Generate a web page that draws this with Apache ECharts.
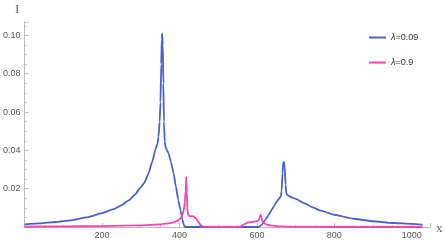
<!DOCTYPE html>
<html><head><meta charset="utf-8">
<script src="https://cdn.jsdelivr.net/npm/echarts@6/dist/echarts.min.js"></script>
<style>html,body{margin:0;padding:0;background:#fff}#c{width:445px;height:240px}</style>
</head><body><div id="c"></div>
<script>
const seriesNames = ['λ=0.09', 'λ=0.9'];
const xTickLabels = [200, 400, 600, 800, 1000];
const yTickLabels = ['0.02', '0.04', '0.06', '0.08', '0.10'];

const blueX = [0,40,80,120,160,200,230,250,270,284,300,309,320,330,338,343,346,349,351,353,354.5,355.5,357,358.5,360,362,364,368,372,378,385,391,397,403,408,412,415,500,604,612,621,630,638,645,651,657,662,664,666,668,670,672,674,676,680,686,700,722,745,765,800,850,900,950,1000,1028];
const blueY = [0.0014,0.0019,0.0026,0.0035,0.0050,0.0072,0.0093,0.0113,0.0140,0.0167,0.0205,0.0230,0.0278,0.0342,0.0405,0.0432,0.0470,0.0550,0.0650,0.0850,0.0980,0.1010,0.0950,0.0750,0.0550,0.0445,0.0418,0.0400,0.0384,0.0340,0.0280,0.0210,0.0140,0.0085,0.0036,0.0008,0,0,0,0.0010,0.0036,0.0062,0.0089,0.0112,0.0132,0.0148,0.0160,0.0190,0.0280,0.0335,0.0340,0.0310,0.0220,0.0175,0.0165,0.0158,0.0147,0.0125,0.0102,0.0085,0.0064,0.0043,0.0030,0.0021,0.0016,0.0012];

const pinkX = [0,100,200,300,350,380,395,405,411,414,416,417.5,419,420.5,422,426,432,438,443,448,453,458,465,500,550,558,565,575,587,597,603,606,608,610,612,614,618,625,640,660,700,800,1028];
const pinkY = [0.0002,0.0003,0.0005,0.0009,0.0014,0.0022,0.0032,0.0050,0.0085,0.0130,0.0190,0.0262,0.0180,0.0100,0.0065,0.0057,0.0057,0.0053,0.0045,0.0030,0.0015,0.0005,0.0001,0,0,0.0002,0.0012,0.0022,0.0026,0.0029,0.0032,0.0040,0.0055,0.0063,0.0048,0.0030,0.0020,0.0013,0.0007,0.0003,0.0001,0,0];

const zip = (xs, ys) => xs.map((x, i) => [x, ys[i]]);
const chart = echarts.init(document.getElementById('c'), null, {renderer: 'canvas'});
const axisCol = '#bdbdbd';
const lblCol = '#555';
chart.setOption({
  animation: false,
  backgroundColor: '#fff',
  grid: {left: 20, top: 22, width: 410, height: 206, containLabel: false},
  xAxis: {
    type: 'value', min: 0, max: 1047, interval: 200,
    axisLine: {lineStyle: {color: axisCol, width: 1}},
    axisTick: {inside: true, length: 4, lineStyle: {color: axisCol}},
    minorTick: {show: true, splitNumber: 4, length: 2, lineStyle: {color: axisCol}},
    splitLine: {show: false},
    axisLabel: {color: lblCol, fontSize: 9, fontFamily: 'Liberation Sans', margin: 4,
      showMaxLabel: false,
      formatter: v => xTickLabels.includes(v) ? String(v) : ''}
  },
  yAxis: {
    type: 'value', min: 0, max: 0.107, interval: 0.02,
    axisLine: {show: true, lineStyle: {color: axisCol, width: 1}},
    axisTick: {show: true, inside: true, length: 4, lineStyle: {color: axisCol}},
    minorTick: {show: true, splitNumber: 4, length: 2, lineStyle: {color: axisCol}},
    splitLine: {show: false},
    axisLabel: {color: lblCol, fontSize: 9, fontFamily: 'Liberation Sans', margin: 4,
      showMaxLabel: false,
      formatter: v => { const s = v.toFixed(2); return yTickLabels.includes(s) ? s : ''; }}
  },
  legend: {
    orient: 'vertical', left: 364, top: 28, itemWidth: 17, itemHeight: 2, itemGap: 16,
    icon: 'rect',
    textStyle: {color: '#333', fontSize: 9, fontFamily: 'Liberation Sans',
      rich: {i: {fontStyle: 'italic', fontSize: 9, fontFamily: 'Liberation Sans', color: '#333'}}},
    formatter: n => '{i|λ}' + n.slice(1),
    data: seriesNames
  },
  graphic: [
    {type: 'text', left: 15, top: 3, style: {text: 'I', font: '13px "Liberation Serif"', fill: '#666'}},
    {type: 'text', left: 436, top: 222, style: {text: 'x', font: '13px "Liberation Serif"', fill: '#666'}}
  ],
  series: [
    {name: seriesNames[0], type: 'line', data: zip(blueX, blueY), showSymbol: false,
     smooth: 0.15, smoothMonotone: 'x', lineStyle: {color: '#4662cd', width: 1.8}, itemStyle: {color: '#4662cd'}},
    {name: seriesNames[1], type: 'line', data: zip(pinkX, pinkY), showSymbol: false,
     smooth: 0.15, smoothMonotone: 'x', lineStyle: {color: '#ff3fae', width: 1.8}, itemStyle: {color: '#ff3fae'}}
  ]
});
</script></body></html>
